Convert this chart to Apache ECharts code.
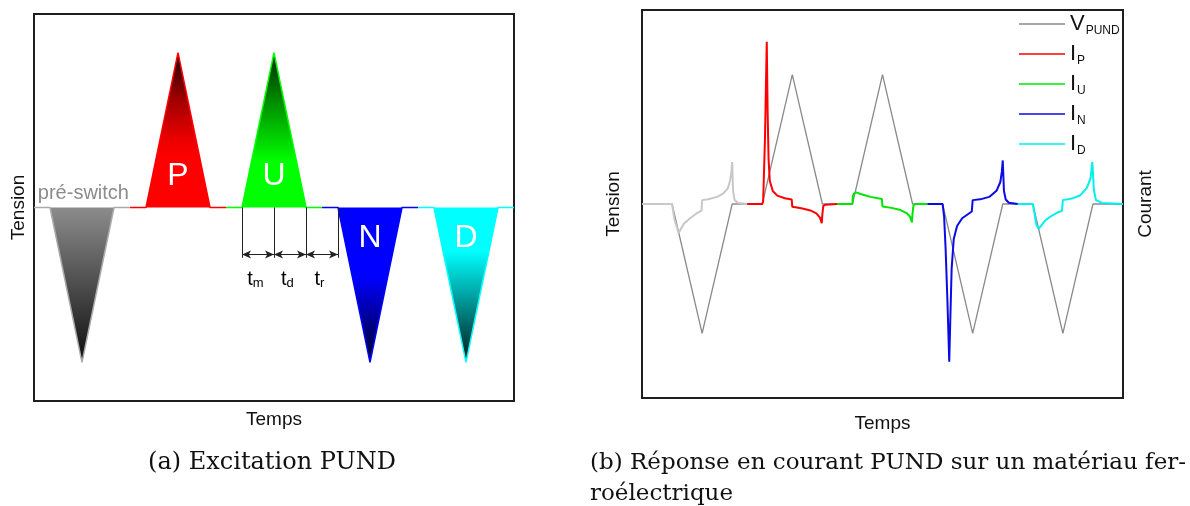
<!DOCTYPE html>
<html>
<head>
<meta charset="utf-8">
<script src="https://cdn.jsdelivr.net/npm/echarts@6/dist/echarts.min.js"></script>
<style>
  html, body { margin: 0; padding: 0; background: #fff; }
  #main { width: 1190px; height: 506px; }
</style>
</head>
<body>
<div id="main"></div>
<script>
// (a) excitation PUND : one pulse per segment, [temps, tension]
var preSwitch = [[0, 0], [0.5, 0], [1.5, -0.8], [2.5, 0], [3, 0]];
var pulseP = [[3, 0], [3.5, 0], [4.5, 0.8], [5.5, 0], [6, 0]];
var pulseU = [[6, 0], [6.5, 0], [7.5, 0.8], [8.5, 0], [9, 0]];
var pulseN = [[9, 0], [9.5, 0], [10.5, -0.8], [11.5, 0], [12, 0]];
var pulseD = [[12, 0], [12.5, 0], [13.5, -0.8], [14.5, 0], [15, 0]];
var pulseNames = ['P', 'U', 'N', 'D'];
var timeMarks = [6.5, 7.5, 8.5, 9.5];
var timeSubs = ['m', 'd', 'r'];

// (b) réponse en courant
var vTime = [0, 1, 2, 3, 4, 5, 6, 7, 8, 9, 10, 11, 12, 13, 14, 15, 16];
var vPund = [0, 0, -1, 0, 0, 1, 0, 0, 1, 0, 0, -1, 0, 0, -1, 0, 0];
var iPre = [[0, 0], [1.0, 0], [1.08, -0.12], [1.22, -0.225], [1.3, -0.19], [1.4, -0.15], [1.6, -0.11],
  [1.8, -0.075], [1.98, -0.052], [2.0, 0.03], [2.2, 0.037], [2.5, 0.055], [2.7, 0.08], [2.85, 0.12],
  [2.93, 0.18], [2.98, 0.26], [3.0, 0.325], [3.03, 0.1], [3.08, 0.03], [3.2, 0.008], [3.5, 0]];
var iP = [[3.5, 0], [4.0, 0], [4.03, 0.02], [4.09, 0.5], [4.15, 1.255], [4.18, 0.7], [4.21, 0.35],
  [4.25, 0.18], [4.35, 0.1], [4.5, 0.065], [4.75, 0.045], [4.98, 0.035], [5.0, -0.022], [5.3, -0.033],
  [5.6, -0.05], [5.8, -0.072], [5.92, -0.105], [5.98, -0.148], [6.0, -0.08], [6.03, -0.015], [6.1, -0.005], [6.5, 0]];
var iU = [[6.5, 0], [7.0, 0], [7.01, 0.06], [7.05, 0.08], [7.12, 0.09], [7.3, 0.075], [7.6, 0.055],
  [7.98, 0.038], [8.0, -0.02], [8.3, -0.03], [8.6, -0.047], [8.8, -0.07], [8.92, -0.1], [8.98, -0.142],
  [9.0, -0.07], [9.03, -0.01], [9.1, 0], [9.5, 0]];
var iN = [[9.5, 0], [10.0, 0], [10.05, -0.1], [10.1, -0.35], [10.16, -0.75], [10.22, -1.22], [10.26, -0.85],
  [10.3, -0.5], [10.37, -0.27], [10.48, -0.17], [10.65, -0.11], [10.97, -0.058], [11.0, 0.03], [11.25, 0.036],
  [11.55, 0.055], [11.8, 0.105], [11.92, 0.17], [11.97, 0.25], [12.0, 0.337], [12.04, 0.1], [12.1, 0.035],
  [12.2, 0.01], [12.5, 0]];
var iD = [[12.5, 0], [13.0, 0], [13.06, -0.08], [13.12, -0.16], [13.19, -0.192], [13.27, -0.17], [13.4, -0.13],
  [13.6, -0.095], [13.8, -0.068], [13.97, -0.053], [14.0, 0.03], [14.3, 0.042], [14.58, 0.068], [14.8, 0.125],
  [14.92, 0.2], [14.98, 0.325], [15.03, 0.11], [15.1, 0.03], [15.3, 0.008], [16, 0]];

var FONT = 'Liberation Sans';

function grad(stops) {
  return new echarts.graphic.LinearGradient(0, 0, 0, 1, stops.map(function (s) {
    return { offset: s[0], color: s[1] };
  }));
}

function pulse(data, line, stops) {
  return {
    type: 'line', xAxisIndex: 0, yAxisIndex: 0, data: data,
    symbol: 'none', silent: true,
    lineStyle: { color: line, width: 1.5 },
    areaStyle: { color: grad(stops), opacity: 1 }
  };
}

var pulses = [pulseP, pulseU, pulseN, pulseD];
var letterData = pulses.map(function (p, i) {
  return [p[2][0], p[2][1] > 0 ? 0.16 : -0.16, pulseNames[i]];
});
var tLabelData = timeSubs.map(function (s, i) {
  return [(timeMarks[i] + timeMarks[i + 1]) / 2 - 0.08, -0.37, s];
});

var marks = timeMarks.map(function (t) {
  return [{ coord: [t, 0], symbol: 'none' }, { coord: [t, -0.26], symbol: 'none' }];
});
for (var k = 0; k < timeMarks.length - 1; k++) {
  marks.push([{ coord: [timeMarks[k], -0.243] }, { coord: [timeMarks[k + 1], -0.243] }]);
}

function pairs(xs, ys) {
  return xs.map(function (x, i) { return [x, ys[i]]; });
}

function current(name, data, color) {
  return {
    name: name, type: 'line', xAxisIndex: 1, yAxisIndex: 2, data: data,
    symbol: 'none', silent: true,
    itemStyle: { color: color },
    lineStyle: { color: color, width: 2 }
  };
}

var hiddenAxis = {
  axisLine: { show: false }, axisTick: { show: false },
  axisLabel: { show: false }, splitLine: { show: false },
  nameLocation: 'middle',
  nameTextStyle: { fontSize: 19, fontFamily: FONT, color: '#111' }
};

function axis(extra) {
  return Object.assign({}, hiddenAxis, { type: 'value' }, extra);
}

// invisible carrier for text annotations placed in data coordinates
function textMarks(data, label) {
  return {
    type: 'scatter', xAxisIndex: 0, yAxisIndex: 0, data: data, silent: true, z: 10,
    symbolSize: 1, itemStyle: { color: 'rgba(0,0,0,0)' },
    label: Object.assign({ show: true, position: 'inside', opacity: 1, textBorderWidth: 0, textShadowBlur: 0 }, label)
  };
}

var chart = echarts.init(document.getElementById('main'), null, { renderer: 'canvas' });

var option = {
  animation: false,
  backgroundColor: '#fff',
  grid: [
    { left: 34, top: 14, width: 480, height: 387, show: true, borderColor: '#1e1e1e', borderWidth: 2 },
    { left: 642, top: 10, width: 481, height: 388, show: true, borderColor: '#1e1e1e', borderWidth: 2 }
  ],
  xAxis: [
    axis({ gridIndex: 0, min: 0, max: 15, name: 'Temps', nameGap: 9 }),
    axis({ gridIndex: 1, min: 0, max: 16, name: 'Temps', nameGap: 16 })
  ],
  yAxis: [
    axis({ gridIndex: 0, min: -1, max: 1, name: 'Tension', nameGap: 6, nameRotate: 90 }),
    axis({ gridIndex: 1, min: -1.5, max: 1.5, name: 'Tension', nameGap: 19, nameRotate: 90 }),
    axis({ gridIndex: 1, min: -1.5, max: 1.5, position: 'right', name: 'Courant', nameGap: 13, nameRotate: 90 })
  ],
  legend: {
    data: ['VPUND', 'IP', 'IU', 'IN', 'ID'],
    orient: 'vertical', left: 1019, top: 13, padding: 0,
    icon: 'rect', itemWidth: 46, itemHeight: 1.5, itemGap: 6,
    formatter: function (name) { return '{m|' + name[0] + '}{s|' + name.slice(1) + '}'; },
    textStyle: {
      color: '#111', fontFamily: FONT,
      rich: {
        m: { fontSize: 22, lineHeight: 26, fontFamily: FONT, color: '#111' },
        s: { fontSize: 12, lineHeight: 6, verticalAlign: 'bottom', fontFamily: FONT, color: '#111', padding: [0, 0, 0, 1] }
      }
    }
  },
  series: [
    pulse(preSwitch, '#aaaaaa', [[0, '#8c8c8c'], [1, '#0e0e0e']]),
    pulse(pulseP, '#ff0000', [[0, '#1a0000'], [0.3, '#a00000'], [0.55, '#e80000'], [0.68, '#ff0000'], [1, '#ff0000']]),
    pulse(pulseU, '#00ff00', [[0, '#002800'], [0.3, '#008800'], [0.6, '#00e000'], [0.7, '#00ff00'], [1, '#00ff00']]),
    pulse(pulseN, '#0000ff', [[0, '#0000ff'], [0.45, '#0000ff'], [1, '#000028']]),
    pulse(pulseD, '#00ffff', [[0, '#00ffff'], [0.28, '#00ffff'], [1, '#001818']]),
    {
      type: 'line', xAxisIndex: 0, yAxisIndex: 0, data: [], silent: true, z: 4,
      markLine: {
        silent: true, symbol: ['arrow', 'arrow'], symbolSize: [6, 9],
        label: { show: false },
        itemStyle: { color: '#1a1a1a' },
        lineStyle: { color: '#222', width: 1, type: 'solid' },
        emphasis: { disabled: true },
        data: marks
      }
    },
    textMarks(letterData, {
      color: '#ffffff', fontSize: 32, fontFamily: FONT,
      formatter: function (p) { return p.data[2]; }
    }),
    textMarks([[0.12, 0.07]], {
      align: 'left', color: '#8c8c8c', fontSize: 20, fontFamily: FONT, formatter: 'pré-switch'
    }),
    textMarks(tLabelData, {
      formatter: function (p) { return '{t|t}{s|' + p.data[2] + '}'; },
      rich: {
        t: { fontSize: 20, lineHeight: 22, fontFamily: FONT, color: '#000' },
        s: { fontSize: 13, lineHeight: 6, verticalAlign: 'bottom', fontFamily: FONT, color: '#000' }
      }
    }),
    {
      name: 'VPUND', type: 'line', xAxisIndex: 1, yAxisIndex: 1, data: pairs(vTime, vPund),
      symbol: 'none', silent: true, itemStyle: { color: '#8a8a8a' },
      lineStyle: { color: '#8a8a8a', width: 1.3 }
    },
    current('pre', iPre, '#c8c8c8'),
    current('IP', iP, '#ff0000'),
    current('IU', iU, '#00e600'),
    current('IN', iN, '#0a0ae6'),
    current('ID', iD, '#00f0f0')
  ],
  graphic: [
    { type: 'text', x: 272, y: 463, style: { text: '(a) Excitation PUND', fontSize: 24, fontFamily: 'DejaVu Serif', fill: '#111', align: 'center', verticalAlign: 'middle' } },
    { type: 'text', x: 590, y: 463, style: { text: '(b) Réponse en courant PUND sur un matériau fer-', fontSize: 23, fontFamily: 'DejaVu Serif', fill: '#111', align: 'left', verticalAlign: 'middle' } },
    { type: 'text', x: 590, y: 494, style: { text: 'roélectrique', fontSize: 23, fontFamily: 'DejaVu Serif', fill: '#111', align: 'left', verticalAlign: 'middle' } }
  ]
};

chart.setOption(option);
</script>
</body>
</html>
